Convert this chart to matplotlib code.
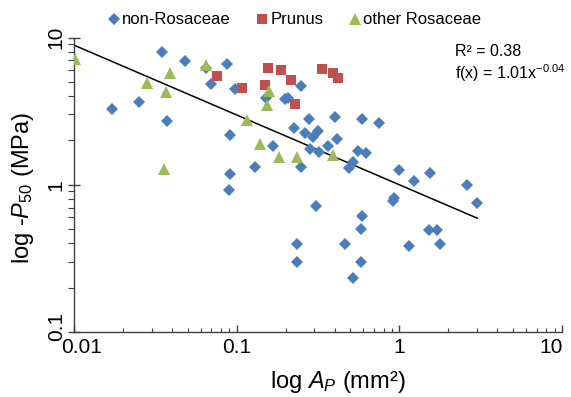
import matplotlib
matplotlib.use("Agg")
import matplotlib.pyplot as plt
import matplotlib.transforms as mtransforms
from matplotlib.lines import Line2D
import numpy as np

plt.rcParams['font.family'] = ['Liberation Sans', 'DejaVu Sans']
plt.rcParams['mathtext.fontset'] = 'custom'
plt.rcParams['mathtext.rm'] = 'Liberation Sans'
plt.rcParams['mathtext.it'] = 'Liberation Sans:italic'
plt.rcParams['mathtext.default'] = 'regular'

# ---- data ----
non_ros_x = [0.0346, 0.0483, 0.0645, 0.0868, 0.0692, 0.0976, 0.0172, 0.0251, 0.0371, 0.0906,
             0.1296, 0.091, 0.0893, 0.2484, 0.1514, 0.1981, 0.2058, 0.2794, 0.4019, 0.5866,
             0.7521, 0.226, 0.263, 0.3147, 0.2932, 0.4117, 0.1679, 0.2822, 0.3205, 0.3625,
             0.5566, 0.6233, 0.5209, 0.49, 0.2474, 0.9987, 1.549, 1.235, 2.60, 3.01,
             0.909, 0.930, 0.3072, 0.5866, 0.5783, 0.2358, 0.463, 0.2358, 0.5783, 0.5164,
             1.52, 1.695, 1.776, 1.141]
non_ros_y = [8.01, 6.93, 6.18, 6.58, 4.86, 4.46, 3.28, 3.65, 2.69, 2.17,
             1.33, 1.187, 0.915, 4.67, 3.87, 3.81, 3.91, 2.79, 2.89, 2.79,
             2.62, 2.41, 2.24, 2.30, 2.11, 2.05, 1.82, 1.75, 1.68, 1.82,
             1.70, 1.648, 1.425, 1.30, 1.31, 1.25, 1.20, 1.053, 1.0, 0.747,
             0.77, 0.807, 0.72, 0.61, 0.50, 0.398, 0.394, 0.299, 0.299, 0.233,
             0.49, 0.495, 0.398, 0.382]

prunus_x = [0.0754, 0.1082, 0.1564, 0.1872, 0.2147, 0.150, 0.2282, 0.333, 0.389, 0.4212]
prunus_y = [5.51, 4.57, 6.18, 6.02, 5.15, 4.76, 3.52, 6.09, 5.74, 5.34]

other_x = [0.01014, 0.0647, 0.0389, 0.0282, 0.0366, 0.1162, 0.139, 0.0359, 0.1586, 0.1536,
           0.1812, 0.2348, 0.3924]
other_y = [7.12, 6.48, 5.72, 4.94, 4.29, 2.76, 1.89, 1.278, 4.34, 3.47,
           1.548, 1.548, 1.597]

series_names = ['non-Rosaceae', 'Prunus', 'other Rosaceae']
trend_a = 1.0
trend_b = -0.474
x_ticks = [0.01, 0.1, 1, 10]
x_ticklabels = ['0.01', '0.1', '1', '10']
y_ticks = [0.1, 1, 10]
y_ticklabels = ['0.1', '1', '10']

blue = '#4A7EBB'
red = '#C0504D'
green = '#9BBB59'

W, H = 571, 397
fig = plt.figure(figsize=(W / 100, H / 100), dpi=100)
ax = fig.add_axes([74 / W, 1 - 332 / H, (562 - 74) / W, (332 - 37.5) / H])
ax.set_xscale('log')
ax.set_yscale('log')
ax.set_xlim(0.01, 10)
ax.set_ylim(0.1, 10)

ms_d, ms_s, ms_t = 6.2, 7.6, 8.0
ax.plot(non_ros_x, non_ros_y, linestyle='none', marker='D', ms=ms_d, color=blue,
        markeredgewidth=0, zorder=3)
ax.plot(prunus_x, prunus_y, linestyle='none', marker='s', ms=ms_s, color=red,
        markeredgewidth=0, zorder=3)
ax.plot(other_x, other_y, linestyle='none', marker='^', ms=ms_t, color=green,
        markeredgewidth=0, zorder=3)

all_x = np.array(non_ros_x + prunus_x + other_x)
tx = np.array([all_x.min(), all_x.max()])
ax.plot(tx, trend_a * tx ** trend_b, color='black', lw=1.1, zorder=2)

for s in ['top', 'right']:
    ax.spines[s].set_visible(False)
for s in ['left', 'bottom']:
    ax.spines[s].set_color('#404040')
    ax.spines[s].set_linewidth(1.0)

ax.set_xticks(x_ticks)
ax.set_xticklabels(x_ticklabels)
ax.set_yticks(y_ticks)
ax.set_yticklabels(y_ticklabels, rotation=90, va='center')
ax.tick_params(axis='x', which='major', direction='in', length=5, width=1,
               color='#404040', labelsize=15, pad=4)
ax.tick_params(axis='x', which='minor', direction='in', length=3, width=0.8,
               color='#404040')
ax.tick_params(axis='y', which='major', direction='inout', length=8, width=1,
               color='#404040', labelsize=15, pad=2)
ax.tick_params(axis='y', which='minor', direction='out', length=4, width=0.8,
               color='#404040')

# Excel nudges the end labels so they stay clear of the corner / edge
xls = ax.get_xticklabels()
xls[0].set_transform(xls[0].get_transform() + mtransforms.ScaledTranslation(8 / 100, 0, fig.dpi_scale_trans))
xls[-1].set_transform(xls[-1].get_transform() + mtransforms.ScaledTranslation(-11 / 100, 0, fig.dpi_scale_trans))
yl0 = ax.get_yticklabels()[0]
yl0.set_transform(yl0.get_transform() + mtransforms.ScaledTranslation(0, 6 / 100, fig.dpi_scale_trans))

fig.text(23 / W, 1 - 188 / H, r'log -$\mathit{P}_{\mathit{50}}$ (MPa)', rotation=90,
         ha='center', va='center', fontsize=17)
fig.text(338 / W, 1 - 382 / H, r'log $\mathit{A}_{\mathit{P}}$ (mm²)',
         ha='center', va='center', fontsize=17)

fig.text(455 / W, 1 - 52 / H, 'R² = 0.38', ha='left', va='center', fontsize=11.5)
fig.text(455 / W, 1 - 73 / H, r'f(x) = 1.01x$^{-0.04}$', ha='left', va='center', fontsize=11.5)

handles = [
    Line2D([], [], linestyle='none', marker='D', ms=ms_d, color=blue, markeredgewidth=0),
    Line2D([], [], linestyle='none', marker='s', ms=ms_s, color=red, markeredgewidth=0),
    Line2D([], [], linestyle='none', marker='^', ms=ms_t, color=green, markeredgewidth=0),
]
fig.legend(handles, series_names, loc='center', bbox_to_anchor=(295 / W, 1 - 20 / H),
           ncol=3, frameon=False, fontsize=12, handlelength=0.6, handletextpad=0.2,
           columnspacing=1.6, borderpad=0)

fig.savefig('out.png', dpi=100)
